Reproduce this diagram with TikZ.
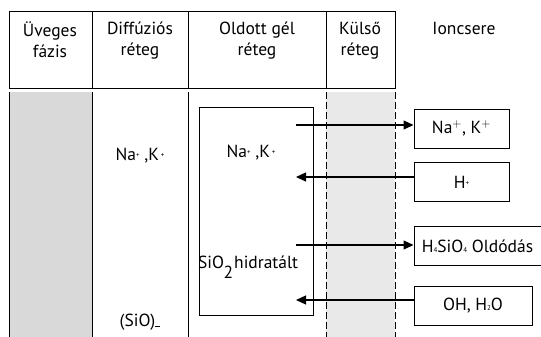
\documentclass[tikz,border=0pt]{standalone}
\usepackage{fontspec}
\setmainfont{PT Sans}
\usetikzlibrary{arrows.meta}

% tiny inline index, as printed in the picture
\newcommand{\ix}[1]{{\fontsize{7}{7}\selectfont #1}}
\newcommand{\ixup}[1]{\raisebox{0.35ex}{\fontsize{7}{7}\selectfont #1}}

\begin{document}
\begin{tikzpicture}[x=1pt, y=-1pt,
  cell/.style={draw, line width=1pt},
  head/.style={anchor=north, align=center, font=\fontsize{17.5}{21}\selectfont, inner sep=0pt},
  txt/.style={font=\fontsize{17.5}{21}\selectfont},
  ionbox/.style={draw, line width=1pt, minimum height=39pt, font=\fontsize{17.5}{21}\selectfont, inner sep=0pt},
  flow/.style={draw, line width=1.2pt, -{Triangle[length=10pt,width=9pt]}}
]
    \useasboundingbox (0,0) rectangle (541,337);

    % gray layers
    \fill[gray!30] (9,92) rectangle (92,337);
    \fill[gray!17] (326,92) rectangle (395,337);

    % header row
    \draw[cell] (9,12) rectangle (92,89);
    \draw[cell] (92,12) rectangle (188,89);
    \draw[cell] (188,12) rectangle (326,89);
    \draw[cell] (326,12) rectangle (395,89);
    \node[head] (h1) at (50,22) {Üveges\\fázis};
    \node[head] (h2) at (140,22) {Diffúziós\\réteg};
    \node[head] (h3) at (257,22) {Oldott gél\\réteg};
    \node[head] (h4) at (360,22) {Külső\\réteg};
    \node[head] (h5) at (464,22) {Ioncsere};

    % layer boundaries
    \draw[cell] (9,92) -- (9,337);
    \draw[cell] (92,92) -- (92,337);
    \draw[cell] (188,92) -- (188,337);
    \draw[line width=1pt, dash pattern=on 7pt off 3pt] (326,92) -- (326,337);
    \draw[line width=1pt, dash pattern=on 7pt off 3pt] (395,92) -- (395,337);

    % gel box
    \draw[cell] (199,107) rectangle (313,315);

    \node[txt] (nak1) at (140,156) {Na\ixup{+} ,K\ixup{ +}};
    \node[txt] (nak2) at (251,153) {Na\ixup{+} ,K\ixup{ +}};
    \node[txt, anchor=west, inner sep=0pt] (sio2) at (198,267) {SiO\kern-0.5pt\raisebox{-1.2ex}{2}\kern1pt hidratált};
    \node[txt] (sio) at (140,322) {(SiO)\rule[-1pt]{5pt}{0.9pt}};

    % ion exchange boxes
    \node[ionbox, minimum width=95pt] (out1) at (461.5,128.5) {Na$^{+}$, K$^{+}$};
    \node[ionbox, minimum width=95pt] (in1) at (461.5,182) {H\ixup{+}};
    \node[ionbox, minimum width=127pt] (out2) at (477.5,246) {H\ix{4}SiO\ix{4} Oldódás};
    \node[ionbox, minimum width=118pt] (in2) at (473,306) {OH, H\ix{2}O};

    \coordinate (a1) at (296,125);
    \coordinate (a2) at (296,177);
    \coordinate (a3) at (296,245);
    \coordinate (a4) at (296,300);

    \path[flow] (a1) -- (a1 -| out1.west);
    \path[flow] (a2 -| in1.west) -- (a2);
    \path[flow] (a3) -- (a3 -| out2.west);
    \path[flow] (a4 -| in2.west) -- (a4);
\end{tikzpicture}
\end{document}
